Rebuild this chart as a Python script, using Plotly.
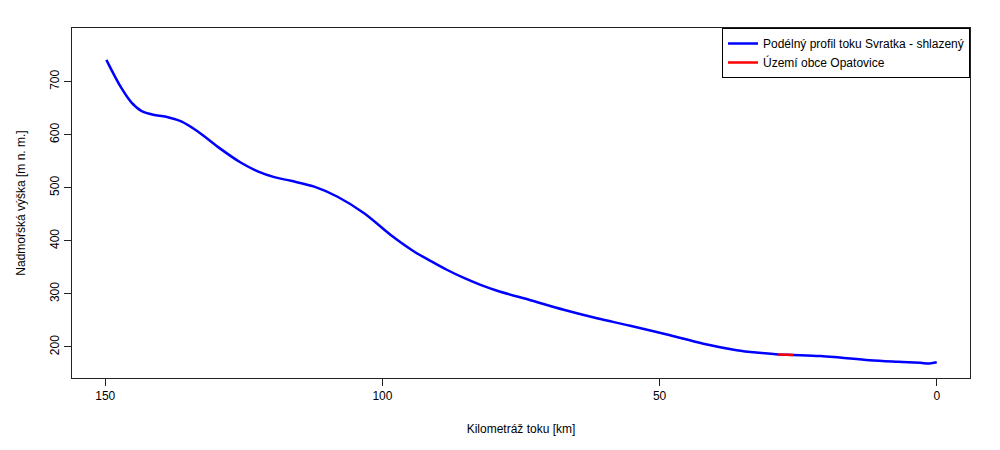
import plotly.graph_objects as go

# River profile (smoothed) - km from mouth, elevation m a.s.l.
km = [149.8, 147.1, 145.3, 143.5, 141.1, 138.7, 136.3, 133.3, 129.7, 125.5,
      122.5, 119.5, 116.5, 112.3, 108.1, 103.3, 98.5, 94.3, 91.3, 88.3,
      85.3, 82.3, 79.3, 73.3, 67.3, 61.3, 55.3, 48.1, 42.1, 36.1,
      32.0, 28.6, 25.9, 21.0, 17.5, 12.1, 7.0, 3.0, 1.3, 0.0]
elev = [741, 688, 661, 645, 637, 633, 625, 606, 577, 547,
        531, 520, 513, 502, 483, 452, 411, 380, 362, 345,
        330, 317, 306, 288, 270, 254, 240, 222, 206, 194,
        189, 186, 185, 183, 180, 175, 172, 170, 169, 171]

# Opatovice segment
km_opat = [28.6, 27.2, 25.9]
elev_opat = [186, 185.5, 185]

x_ticks = [150, 100, 50, 0]
y_ticks = [200, 300, 400, 500, 600, 700]

fig = go.Figure()
fig.add_trace(go.Scatter(x=km, y=elev, mode="lines",
                         line=dict(color="#0000ff", width=2.5, shape="spline", smoothing=1.0),
                         name="Podélný profil toku Svratka - shlazený"))
fig.add_trace(go.Scatter(x=km_opat, y=elev_opat, mode="lines",
                         line=dict(color="#ff0000", width=2.5),
                         name="Území obce Opatovice"))

axis_common = dict(showgrid=False, zeroline=False, showline=True, mirror=True,
                   linecolor="#222222", linewidth=1, ticks="outside", ticklen=7,
                   tickcolor="#222222", tickfont=dict(size=12, color="black"),
                   automargin=False)

# page body has an 8px margin, so the figure is sized to fit the window
fig.update_layout(
    width=992, height=442,
    margin=dict(l=64, r=30, t=20, b=72, autoexpand=False),
    paper_bgcolor="white", plot_bgcolor="white",
    font=dict(family="Liberation Sans, Arial, sans-serif", size=12, color="black"),
    xaxis=dict(range=[156, -6], tickvals=x_ticks, ticktext=[str(v) for v in x_ticks],
               title=dict(text="Kilometráž toku [km]", standoff=22, font=dict(size=12)),
               **axis_common),
    yaxis=dict(range=[141.5, 801], tickvals=y_ticks, ticktext=[str(v) for v in y_ticks],
               tickangle=-90,
               title=dict(text="Nadmořská výška [m n. m.]", standoff=20, font=dict(size=12)),
               **axis_common),
    legend=dict(x=1.0, y=1.0, xanchor="right", yanchor="top",
                bordercolor="black", borderwidth=1, bgcolor="white",
                font=dict(size=12), tracegroupgap=0, itemwidth=30),
    showlegend=True,
)

fig.write_html("out.html")
